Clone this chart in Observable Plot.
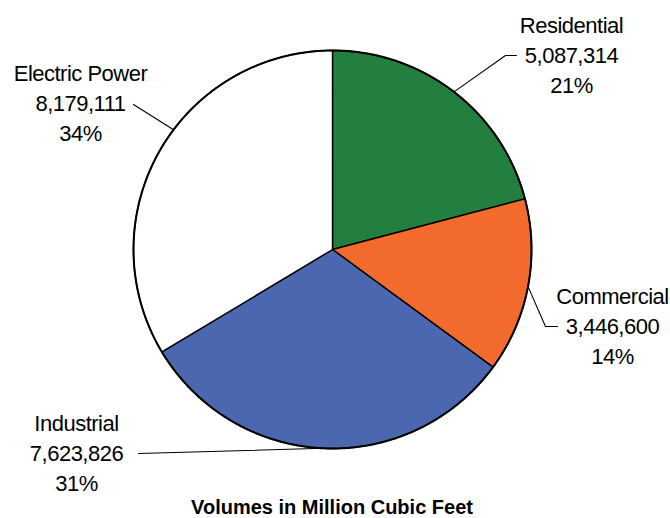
<!DOCTYPE html>
<html>
<head>
<meta charset="utf-8">
<script src="https://cdn.jsdelivr.net/npm/d3@7"></script>
<script src="https://cdn.jsdelivr.net/npm/@observablehq/plot@0.6"></script>
<style>
  html, body { margin: 0; padding: 0; background: #fff; }
  #chart { width: 670px; }
  #chart svg text { letter-spacing: -0.5px; }
  #caption { width: 664px; text-align: center; font: bold 20px "Liberation Sans", Arial, sans-serif; color: #000; line-height: 22px; margin-top: 0; }
</style>
</head>
<body>
<div id="chart"></div>
<div id="caption">Volumes in Million Cubic Feet</div>
<script>
// ---- data ----
const categories = ["Residential", "Commercial", "Industrial", "Electric Power"];
const volumes = [5087314, 3446600, 7623826, 8179111];
const percents = [21, 14, 31, 34];
const colors = ["#237F3F", "#F26B2C", "#4A67B0", "#FFFFFF"];

// ---- layout (pixels) ----
const W = 670, H = 496;
const cx = 332, cy = 249, R = 199;
// label block centers and leader elbows
const labelPos = [
  {x: 571, y: 53},
  {x: 612, y: 324},
  {x: 76, y: 451},
  {x: 80, y: 101}
];
const leaderOuter = [
  [[505, 55], [516, 55]],
  [[545, 326], [557, 326]],
  [[138, 453]],
  [[133, 104]]
];
const leaderAngleShift = [0, 0, 0, 7.5 * Math.PI / 180];

const pt = (a, r = R) => ({x: cx + r * Math.sin(a), y: cy - r * Math.cos(a)});

const arcs = d3.pie().sort(null).startAngle(0).endAngle(2 * Math.PI)(volumes);

const slices = arcs.map((a, i) => {
  const n = Math.max(4, Math.ceil((a.endAngle - a.startAngle) / 0.01));
  const pts = [{x: cx, y: cy}];
  for (let k = 0; k <= n; k++) pts.push(pt(a.startAngle + (a.endAngle - a.startAngle) * k / n));
  pts.push({x: cx, y: cy});
  return {name: categories[i], color: colors[i], pts};
});

const circle = d3.range(0, 721).map(k => pt(k / 720 * 2 * Math.PI));

const leaders = arcs.map((a, i) => {
  const mid = (a.startAngle + a.endAngle) / 2 + leaderAngleShift[i];
  const e = pt(mid);
  const outer = leaderOuter[i].map(([x, y]) => ({x, y}));
  return [e, ...outer];
});

const fmt = d3.format(",");
const labels = categories.map((c, i) => ({
  text: `${c}\n${fmt(volumes[i])}\n${percents[i]}%`,
  x: labelPos[i].x, y: labelPos[i].y
}));

const marks = [];
slices.forEach(s => marks.push(Plot.line(s.pts, {x: "x", y: "y", fill: s.color, stroke: "#000", strokeWidth: 1.4, curve: "linear"})));
marks.push(Plot.line(circle, {x: "x", y: "y", stroke: "#000", strokeWidth: 2}));
leaders.forEach(l => marks.push(Plot.line(l, {x: "x", y: "y", stroke: "#000", strokeWidth: 1.1})));
marks.push(Plot.text(labels, {x: "x", y: "y", text: "text", lineAnchor: "middle", textAnchor: "middle", lineHeight: 1.36, fontSize: 22, fill: "#000"}));

const chart = Plot.plot({
  width: W, height: H,
  margin: 0,
  x: {domain: [0, W], range: [0, W], axis: null},
  y: {domain: [0, H], range: [0, H], axis: null},
  style: {fontFamily: "'Liberation Sans', Arial, sans-serif", background: "#fff", overflow: "visible"},
  marks
});
document.getElementById("chart").appendChild(chart);
</script>
</body>
</html>
